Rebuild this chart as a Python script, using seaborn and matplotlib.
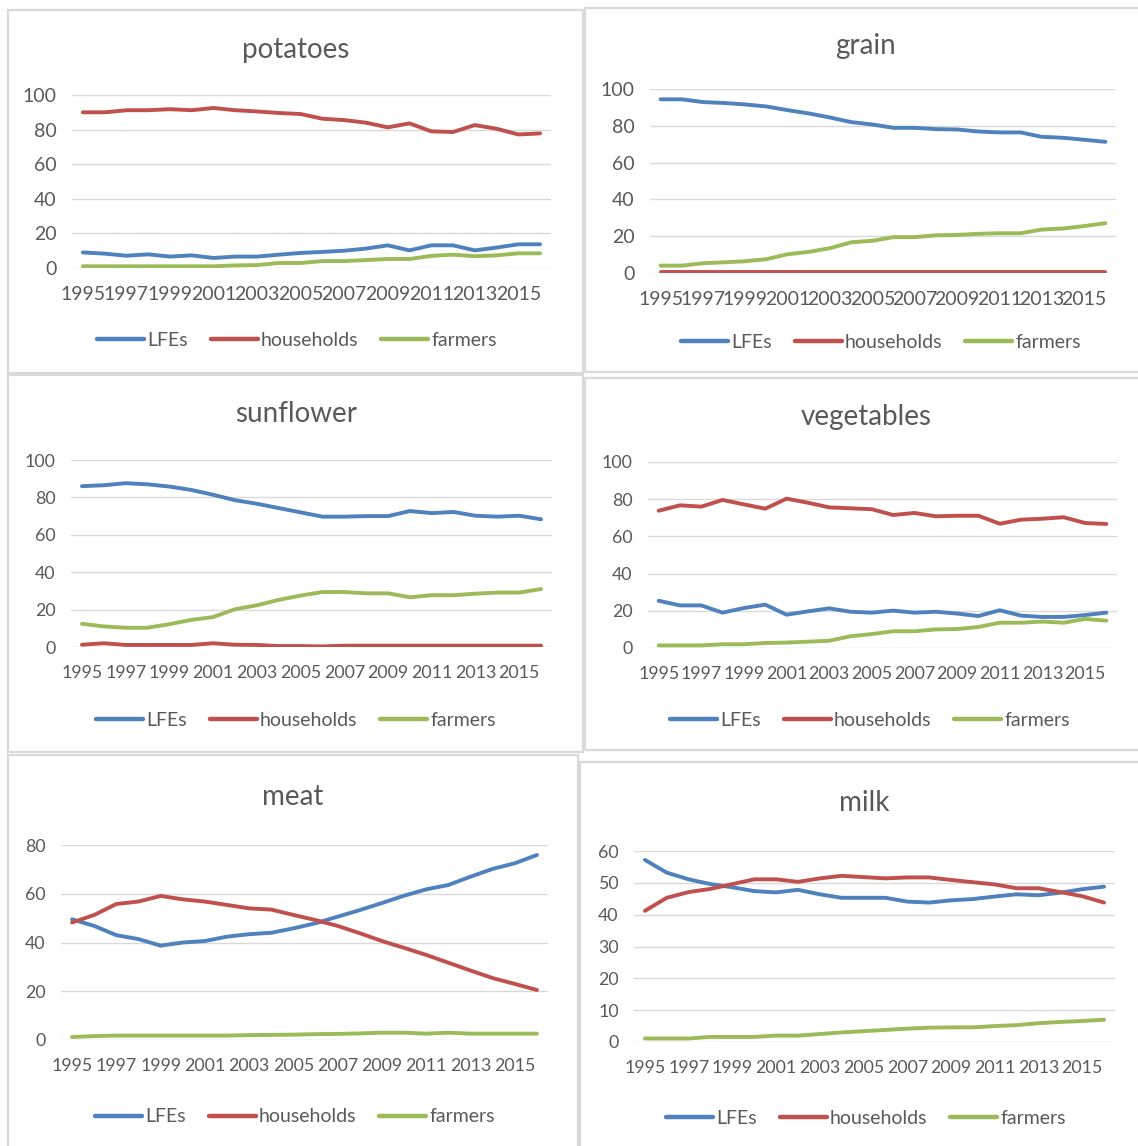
import matplotlib
matplotlib.use("Agg")
import matplotlib.pyplot as plt
from matplotlib.lines import Line2D
from matplotlib.patches import Rectangle
import pandas as pd
import seaborn as sns

# ---------------------------------------------------------------- data
YEARS = [1995, 1996, 1997, 1998, 1999, 2000, 2001, 2002, 2003, 2004, 2005,
         2006, 2007, 2008, 2009, 2010, 2011, 2012, 2013, 2014, 2015, 2016]
SERIES = ["LFEs", "households", "farmers"]

POTATOES_LFES = [9.0, 8.3, 7.1, 7.9, 6.6, 7.3, 5.8, 6.6, 6.6, 7.7, 8.7,
                 9.3, 10.0, 11.2, 13.1, 10.2, 13.1, 13.1, 10.2, 11.8, 13.7, 13.7]
POTATOES_HOUSEHOLDS = [90.0, 90.0, 91.2, 91.2, 91.8, 91.2, 92.5, 91.2, 90.5, 89.6, 89.0,
                       86.3, 85.5, 84.0, 81.3, 83.6, 79.0, 78.6, 82.6, 80.5, 77.2, 77.8]
POTATOES_FARMERS = [1.0, 1.0, 1.0, 1.0, 1.0, 1.0, 1.0, 1.5, 1.7, 2.9, 2.9,
                    4.0, 4.0, 4.6, 5.2, 5.2, 7.0, 7.7, 6.8, 7.3, 8.5, 8.5]

GRAIN_LFES = [94.4, 94.4, 92.9, 92.4, 91.6, 90.5, 88.5, 86.7, 84.5, 82.0, 80.7,
              78.9, 78.9, 78.2, 78.0, 76.9, 76.4, 76.4, 74.0, 73.5, 72.4, 71.3]
GRAIN_HOUSEHOLDS = [0.3, 0.3, 0.3, 0.3, 0.3, 0.3, 0.3, 0.3, 0.3, 0.3, 0.3,
                    0.3, 0.3, 0.3, 0.3, 0.3, 0.3, 0.3, 0.3, 0.3, 0.3, 0.3]
GRAIN_FARMERS = [4.0, 4.0, 5.3, 5.8, 6.4, 7.5, 10.2, 11.5, 13.5, 16.7, 17.5,
                 19.5, 19.5, 20.5, 20.7, 21.3, 21.6, 21.6, 23.6, 24.2, 25.5, 27.1]

SUNFLOWER_LFES = [86.0, 86.5, 87.6, 87.0, 85.8, 84.0, 81.4, 78.5, 76.6, 74.3, 72.0,
                  69.7, 69.7, 70.0, 70.0, 72.7, 71.6, 72.2, 70.2, 69.7, 70.2, 68.3]
SUNFLOWER_HOUSEHOLDS = [1.2, 2.0, 1.1, 1.1, 1.1, 1.1, 2.0, 1.2, 1.1, 0.5, 0.5,
                        0.3, 0.7, 0.7, 0.7, 0.7, 0.7, 0.7, 0.7, 0.7, 0.7, 0.7]
SUNFLOWER_FARMERS = [12.4, 11.0, 10.3, 10.3, 12.2, 14.5, 16.0, 20.2, 22.3, 25.2, 27.5,
                     29.4, 29.4, 28.7, 28.7, 26.6, 27.7, 27.7, 28.5, 29.1, 29.1, 31.0]

VEGETABLES_LFES = [25.4, 22.9, 22.9, 19.0, 21.5, 23.3, 17.9, 19.7, 21.3, 19.5, 19.0,
                   20.1, 19.0, 19.5, 18.5, 17.2, 20.3, 17.4, 16.7, 16.7, 17.7, 19.0]
VEGETABLES_HOUSEHOLDS = [73.8, 76.7, 76.0, 79.6, 77.2, 74.9, 80.3, 78.1, 75.6, 75.1, 74.6,
                         71.5, 72.6, 70.8, 71.1, 71.1, 66.8, 69.0, 69.5, 70.3, 67.2, 66.7]
VEGETABLES_FARMERS = [1.4, 1.4, 1.4, 2.0, 2.0, 2.7, 2.9, 3.4, 3.9, 6.3, 7.5,
                      9.0, 9.0, 10.0, 10.2, 11.3, 13.6, 13.6, 14.2, 13.6, 15.6, 14.7]

MEAT_LFES = [49.5, 46.8, 43.0, 41.4, 38.7, 40.0, 40.6, 42.4, 43.4, 44.0, 45.8,
             47.9, 50.6, 53.3, 56.2, 59.2, 61.8, 63.6, 67.0, 70.2, 72.5, 75.9]
MEAT_HOUSEHOLDS = [48.2, 51.3, 55.8, 56.8, 59.1, 57.7, 56.8, 55.4, 54.0, 53.5, 51.3,
                   49.2, 46.8, 43.8, 40.6, 37.8, 34.9, 31.7, 28.5, 25.4, 23.0, 20.5]
MEAT_FARMERS = [1.2, 1.6, 1.8, 1.8, 1.8, 1.8, 1.8, 1.8, 2.0, 2.1, 2.2,
                2.4, 2.5, 2.7, 3.0, 3.0, 2.6, 3.0, 2.6, 2.6, 2.6, 2.6]

MILK_LFES = [57.2, 53.2, 51.1, 49.6, 48.6, 47.4, 47.0, 47.8, 46.4, 45.3, 45.3,
             45.3, 44.1, 43.8, 44.5, 44.9, 45.7, 46.4, 46.1, 46.9, 48.0, 48.8]
MILK_HOUSEHOLDS = [41.2, 45.3, 47.1, 48.1, 49.6, 51.1, 51.1, 50.3, 51.4, 52.2, 51.8,
                   51.4, 51.7, 51.7, 50.9, 50.2, 49.5, 48.3, 48.3, 47.1, 45.8, 43.8]
MILK_FARMERS = [1.1, 1.1, 1.1, 1.6, 1.6, 1.6, 2.0, 2.0, 2.5, 3.0, 3.4,
                3.8, 4.2, 4.5, 4.6, 4.6, 5.0, 5.3, 5.9, 6.3, 6.6, 7.0]

# ---------------------------------------------------------------- style
PALETTE = {"LFEs": "#4F81BD", "households": "#C0504D", "farmers": "#9BBB59"}
TEXT = "#595959"
GRID = "#D9D9D9"
FRAME = "#D9D9D9"

sns.set_theme(style="white")
plt.rcParams["font.family"] = ["Lato", "DejaVu Sans"]

W, H = 1138, 1146
fig = plt.figure(figsize=(W / 100, H / 100), dpi=100)
fig.patch.set_facecolor("white")


def fx(px):
    return px / W


def fy(py):
    return 1 - py / H


# title, series, y max, y step, frame box, axes box, title pos, legend pos, tick size
PANELS = [
    ("potatoes", (POTATOES_LFES, POTATOES_HOUSEHOLDS, POTATOES_FARMERS), 100, 20,
     (8, 10, 583, 373), (72, 551, 95, 268), (296, 50), (297, 340), 14),
    ("grain", (GRAIN_LFES, GRAIN_HOUSEHOLDS, GRAIN_FARMERS), 100, 20,
     (585, 8, 1141, 372), (650, 1116, 89, 273), (866, 46), (881, 342), 14),
    ("sunflower", (SUNFLOWER_LFES, SUNFLOWER_HOUSEHOLDS, SUNFLOWER_FARMERS), 100, 20,
     (8, 375, 583, 752), (71, 552, 460, 647), (296, 414), (296, 720), 12.8),
    ("vegetables", (VEGETABLES_LFES, VEGETABLES_HOUSEHOLDS, VEGETABLES_FARMERS), 100, 20,
     (585, 378, 1141, 750), (648, 1117, 462, 648), (866, 417), (870, 720), 12.8),
    ("meat", (MEAT_LFES, MEAT_HOUSEHOLDS, MEAT_FARMERS), 80, 20,
     (8, 755, 578, 1149), (61, 548, 845, 1040), (293, 797), (295, 1117), 12.8),
    ("milk", (MILK_LFES, MILK_HOUSEHOLDS, MILK_FARMERS), 60, 10,
     (580, 762, 1141, 1149), (634, 1115, 851, 1042), (864, 803), (866, 1118), 12.8),
]

for title, values, ymax, ystep, frame, box, tpos, lpos, tfs in PANELS:
    # chart-area border
    x0, y0, x1, y1 = frame
    fig.add_artist(Rectangle((fx(x0), fy(y1)), (x1 - x0) / W, (y1 - y0) / H,
                             transform=fig.transFigure, fill=False,
                             edgecolor=FRAME, linewidth=1.6, zorder=0))

    ax0, ax1, ytop, ybot = box
    ax = fig.add_axes([fx(ax0), fy(ybot), (ax1 - ax0) / W, (ybot - ytop) / H])

    frames = []
    for name, vals in zip(SERIES, values):
        frames.append(pd.DataFrame({"pos": range(len(YEARS)), "year": YEARS,
                                    "value": vals, "series": name}))
    df = pd.concat(frames, ignore_index=True)

    sns.lineplot(data=df, x="pos", y="value", hue="series", hue_order=SERIES,
                 palette=PALETTE, linewidth=2.8, legend=False, sort=False,
                 solid_capstyle="round", solid_joinstyle="round", ax=ax)

    ax.set_xlim(-0.5, len(YEARS) - 0.5)
    ax.set_ylim(0, ymax)
    ax.set_yticks(range(0, ymax + 1, ystep))
    ax.set_xticks(range(0, len(YEARS), 2))
    ax.set_xticklabels([str(y) for y in YEARS[::2]])
    ax.set_xlabel("")
    ax.set_ylabel("")
    ax.grid(axis="y", color=GRID, linewidth=1.0)
    ax.grid(axis="x", visible=False)
    ax.set_axisbelow(True)
    for s in ax.spines.values():
        s.set_visible(False)
    ax.tick_params(axis="both", length=0, colors=TEXT, labelsize=tfs)
    ax.tick_params(axis="x", pad=13)
    ax.tick_params(axis="y", pad=11)
    ax.set_facecolor("none")

    fig.text(fx(tpos[0]), fy(tpos[1]), title, ha="center", va="center",
             fontsize=20, color=TEXT)

    handles = [Line2D([0], [0], color=PALETTE[s], linewidth=3.2,
                      solid_capstyle="round") for s in SERIES]
    fig.legend(handles, SERIES, loc="center",
               bbox_to_anchor=(fx(lpos[0]), fy(lpos[1])), ncol=3, frameon=False,
               fontsize=14, labelcolor=TEXT, handlelength=2.4,
               handletextpad=0.15, columnspacing=1.2, borderpad=0, borderaxespad=0)

fig.savefig("out.png", dpi=100, facecolor="white")
